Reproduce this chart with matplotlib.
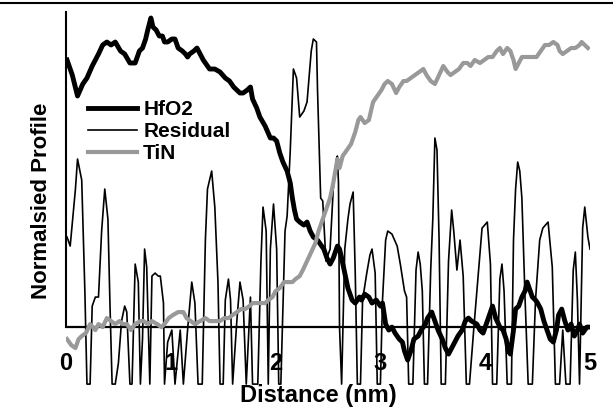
import numpy as np
import matplotlib
matplotlib.use('Agg')
import matplotlib.pyplot as plt
from matplotlib.lines import Line2D

plt.rcParams['font.family'] = ['Liberation Sans', 'DejaVu Sans']

# HfO2 profile (nm, normalised)
hfo2_x = [0.01, 0.06, 0.11, 0.16, 0.20, 0.25, 0.31, 0.35, 0.39, 0.43, 0.47, 0.52, 0.56, 0.61, 0.66,
          0.70, 0.73, 0.76, 0.78, 0.81, 0.83, 0.86, 0.89, 0.92, 0.94, 0.97, 1.01, 1.04, 1.07, 1.11,
          1.14, 1.16, 1.18, 1.22, 1.25, 1.28, 1.31, 1.35, 1.37, 1.42, 1.47, 1.52, 1.56, 1.60, 1.63,
          1.66, 1.69, 1.73, 1.76, 1.78, 1.82, 1.85, 1.90, 1.95, 1.98, 2.01, 2.04, 2.07, 2.11, 2.14,
          2.16, 2.18, 2.20, 2.23, 2.27, 2.30, 2.33, 2.36, 2.40, 2.42, 2.46, 2.49, 2.52, 2.55, 2.59,
          2.61, 2.63, 2.66, 2.69, 2.73, 2.76, 2.80, 2.82, 2.85, 2.89, 2.92, 2.96, 3.00, 3.02, 3.05,
          3.08, 3.11, 3.14, 3.18, 3.21, 3.23, 3.26, 3.29, 3.32, 3.36, 3.39, 3.43, 3.45, 3.49, 3.52,
          3.55, 3.59, 3.62, 3.65, 3.68, 3.71, 3.74, 3.78, 3.81, 3.84, 3.87, 3.92, 3.95, 3.98, 4.02,
          4.05, 4.07, 4.10, 4.14, 4.17, 4.20, 4.22, 4.24, 4.27, 4.29, 4.32, 4.35, 4.38, 4.40, 4.43,
          4.45, 4.48, 4.50, 4.53, 4.56, 4.59, 4.62, 4.65, 4.68, 4.70, 4.73, 4.76, 4.79, 4.82, 4.85,
          4.88, 4.90, 4.93, 4.97, 5.00]
hfo2_y = [0.89, 0.84, 0.77, 0.81, 0.83, 0.87, 0.91, 0.94, 0.95, 0.94, 0.95, 0.92, 0.91, 0.88, 0.88,
          0.92, 0.93, 0.96, 0.99, 1.03, 1.00, 0.99, 0.97, 0.97, 0.95, 0.95, 0.96, 0.96, 0.93, 0.92,
          0.91, 0.90, 0.91, 0.92, 0.93, 0.91, 0.89, 0.87, 0.86, 0.86, 0.85, 0.83, 0.82, 0.80, 0.79,
          0.78, 0.78, 0.79, 0.80, 0.76, 0.73, 0.70, 0.67, 0.63, 0.63, 0.62, 0.58, 0.55, 0.52, 0.48,
          0.43, 0.39, 0.36, 0.35, 0.34, 0.35, 0.32, 0.30, 0.29, 0.28, 0.26, 0.23, 0.21, 0.23, 0.27,
          0.26, 0.23, 0.18, 0.13, 0.09, 0.08, 0.10, 0.09, 0.11, 0.10, 0.08, 0.09, 0.07, 0.08, 0.01,
          -0.01, 0.00, -0.02, -0.04, -0.05, -0.08, -0.11, -0.08, -0.04, -0.03, -0.01, 0.01, 0.03, 0.05, 0.02,
          -0.01, -0.04, -0.07, -0.09, -0.07, -0.05, -0.03, -0.01, 0.02, 0.03, 0.02, 0.01, -0.01, -0.02, 0.02,
          0.05, 0.07, 0.03, 0.00, -0.01, -0.04, -0.08, -0.09, -0.01, 0.06, 0.07, 0.10, 0.12, 0.15, 0.12,
          0.10, 0.09, 0.08, 0.06, 0.02, -0.01, -0.04, -0.05, -0.01, 0.04, 0.06, 0.02, -0.01, 0.01, -0.03,
          -0.01, 0.01, -0.02, 0.00, 0.00]

# TiN profile
tin_x = [0.01, 0.05, 0.09, 0.12, 0.15, 0.19, 0.23, 0.28, 0.31, 0.35, 0.39, 0.43, 0.47, 0.51, 0.54,
         0.58, 0.62, 0.66, 0.71, 0.74, 0.78, 0.82, 0.87, 0.91, 0.94, 0.98, 1.02, 1.07, 1.12, 1.15,
         1.19, 1.23, 1.28, 1.33, 1.37, 1.42, 1.47, 1.51, 1.55, 1.59, 1.63, 1.67, 1.71, 1.75, 1.78,
         1.82, 1.86, 1.90, 1.93, 1.97, 2.00, 2.04, 2.08, 2.12, 2.16, 2.19, 2.23, 2.26, 2.30, 2.34,
         2.38, 2.41, 2.45, 2.49, 2.52, 2.55, 2.57, 2.59, 2.61, 2.64, 2.68, 2.72, 2.76, 2.79, 2.81,
         2.85, 2.89, 2.93, 2.97, 3.01, 3.04, 3.07, 3.11, 3.15, 3.18, 3.22, 3.25, 3.29, 3.33, 3.37,
         3.41, 3.44, 3.48, 3.52, 3.56, 3.60, 3.64, 3.67, 3.71, 3.75, 3.79, 3.83, 3.86, 3.90, 3.95,
         3.99, 4.03, 4.07, 4.11, 4.14, 4.17, 4.21, 4.24, 4.27, 4.29, 4.32, 4.35, 4.40, 4.45, 4.49,
         4.53, 4.57, 4.61, 4.65, 4.69, 4.71, 4.74, 4.78, 4.82, 4.86, 4.90, 4.92, 4.95, 4.98]
tin_y = [-0.04, -0.06, -0.07, -0.04, -0.03, -0.02, 0.01, -0.01, 0.01, 0.00, 0.03, 0.02, 0.01, 0.02, 0.01,
         0.01, -0.01, 0.01, 0.02, 0.02, 0.01, 0.02, 0.01, 0.00, 0.01, 0.03, 0.04, 0.05, 0.05, 0.03,
         0.02, 0.01, 0.02, 0.03, 0.02, 0.02, 0.02, 0.03, 0.03, 0.04, 0.05, 0.06, 0.06, 0.07, 0.08,
         0.08, 0.08, 0.08, 0.09, 0.10, 0.12, 0.13, 0.15, 0.15, 0.15, 0.16, 0.17, 0.19, 0.22, 0.25,
         0.28, 0.32, 0.36, 0.40, 0.43, 0.48, 0.52, 0.56, 0.53, 0.57, 0.59, 0.61, 0.65, 0.69, 0.70,
         0.68, 0.69, 0.75, 0.77, 0.79, 0.81, 0.82, 0.81, 0.78, 0.80, 0.82, 0.82, 0.83, 0.84, 0.85,
         0.86, 0.84, 0.82, 0.81, 0.84, 0.87, 0.85, 0.84, 0.85, 0.86, 0.88, 0.88, 0.87, 0.89, 0.88,
         0.89, 0.90, 0.90, 0.92, 0.93, 0.91, 0.93, 0.92, 0.89, 0.86, 0.88, 0.90, 0.90, 0.90, 0.90,
         0.92, 0.94, 0.94, 0.95, 0.94, 0.92, 0.91, 0.92, 0.93, 0.93, 0.94, 0.95, 0.94, 0.93]

# Residual
res_x = [0.01, 0.04, 0.09, 0.11, 0.15, 0.18, 0.20, 0.23, 0.25, 0.28, 0.31, 0.34, 0.37, 0.40, 0.42,
         0.44, 0.47, 0.50, 0.53, 0.56, 0.58, 0.61, 0.63, 0.66, 0.69, 0.71, 0.73, 0.75, 0.77, 0.80,
         0.82, 0.85, 0.88, 0.90, 0.93, 0.94, 0.97, 1.01, 1.04, 1.09, 1.12, 1.16, 1.20, 1.23, 1.26,
         1.30, 1.33, 1.35, 1.39, 1.42, 1.45, 1.47, 1.50, 1.52, 1.55, 1.57, 1.59, 1.63, 1.66, 1.69,
         1.72, 1.76, 1.78, 1.83, 1.86, 1.88, 1.91, 1.93, 1.95, 1.98, 2.01, 2.03, 2.05, 2.09, 2.11,
         2.14, 2.17, 2.20, 2.23, 2.27, 2.30, 2.34, 2.36, 2.39, 2.40, 2.43, 2.45, 2.48, 2.52, 2.55,
         2.58, 2.59, 2.60, 2.61, 2.63, 2.66, 2.69, 2.71, 2.74, 2.76, 2.78, 2.81, 2.83, 2.87, 2.90,
         2.92, 2.95, 2.97, 3.00, 3.02, 3.05, 3.07, 3.11, 3.16, 3.19, 3.23, 3.25, 3.27, 3.31, 3.34,
         3.36, 3.38, 3.40, 3.42, 3.45, 3.48, 3.50, 3.52, 3.54, 3.56, 3.58, 3.62, 3.65, 3.68, 3.70,
         3.73, 3.76, 3.79, 3.82, 3.85, 3.89, 3.93, 3.97, 4.02, 4.05, 4.07, 4.11, 4.14, 4.16, 4.18,
         4.21, 4.25, 4.27, 4.29, 4.31, 4.33, 4.35, 4.38, 4.41, 4.45, 4.48, 4.52, 4.55, 4.60, 4.64,
         4.67, 4.71, 4.74, 4.77, 4.81, 4.84, 4.86, 4.88, 4.90, 4.93, 4.95, 4.98, 5.00]
res_y = [0.30, 0.27, 0.46, 0.56, 0.49, 0.12, -0.19, -0.19, 0.07, 0.10, 0.10, 0.32, 0.46, 0.36, 0.07,
         -0.19, -0.19, -0.12, 0.02, 0.07, 0.05, -0.19, -0.19, 0.21, 0.15, -0.19, -0.04, 0.26, 0.20, -0.19,
         0.17, 0.18, 0.17, 0.17, 0.08, -0.19, -0.05, -0.01, -0.19, -0.01, -0.19, -0.01, 0.15, 0.08, -0.19,
         -0.19, 0.29, 0.46, 0.52, 0.40, 0.15, -0.19, -0.19, 0.09, 0.16, 0.09, -0.19, 0.02, 0.15, 0.09,
         -0.19, 0.10, -0.19, -0.19, 0.22, 0.40, 0.32, -0.19, 0.26, 0.41, 0.26, -0.19, -0.19, 0.32, 0.37,
         0.59, 0.86, 0.83, 0.70, 0.72, 0.75, 0.92, 0.96, 0.95, 0.79, 0.43, 0.42, 0.22, 0.26, 0.46,
         0.56, 0.57, 0.48, 0.00, -0.19, 0.26, 0.36, 0.41, 0.45, 0.18, -0.19, -0.19, 0.09, 0.18, 0.24,
         0.26, 0.18, -0.19, -0.19, 0.09, 0.29, 0.32, 0.31, 0.27, 0.21, 0.12, 0.10, -0.19, -0.19, 0.19,
         0.25, 0.21, 0.12, -0.19, -0.19, 0.19, 0.36, 0.63, 0.59, 0.29, -0.19, -0.19, 0.22, 0.39, 0.32,
         0.19, 0.29, 0.17, -0.19, -0.19, -0.01, 0.16, 0.33, 0.35, 0.21, -0.19, -0.19, 0.16, 0.21, 0.12,
         -0.19, -0.19, 0.29, 0.46, 0.55, 0.52, 0.43, 0.10, -0.19, -0.19, 0.09, 0.29, 0.33, 0.35, 0.20,
         -0.19, -0.19, -0.01, -0.19, -0.19, 0.19, 0.25, 0.09, -0.19, 0.33, 0.40, 0.30, 0.26]

tick_vals = [0, 1, 2, 3, 4, 5]

fig = plt.figure(figsize=(6.13, 4.09), dpi=100)
ax = fig.add_axes([66 / 613, 1 - 385 / 409, 524 / 613, 373 / 409])

ax.plot(hfo2_x, hfo2_y, color='black', lw=3.5, label='HfO2', solid_joinstyle='round')
ax.plot(res_x, res_y, color='black', lw=1.2, label='Residual')
ax.plot(tin_x, tin_y, color='#999999', lw=3.0, label='TiN', solid_joinstyle='round')
ax.axhline(0, color='black', lw=1.6, zorder=1)

ax.set_xlim(0, 5)
ax.set_ylim(-0.193, 1.05)
for s in ['top', 'right', 'bottom']:
    ax.spines[s].set_visible(False)
ax.spines['left'].set_linewidth(1.5)
ax.spines['left'].set_bounds(0, 1.05)
ax.set_yticks([])
ax.set_xticks(tick_vals)
ax.set_xticklabels([str(t) for t in tick_vals], fontsize=17, fontweight='bold')
ax.tick_params(axis='x', length=0, pad=-24)

ax.legend(loc='upper left', bbox_to_anchor=(0.042, 0.764), frameon=False,
          prop={'weight': 'bold', 'size': 15}, handlelength=2.35, handletextpad=0.3,
          labelspacing=0.15, borderpad=0, borderaxespad=0)

fig.text(42 / 613, 0.508, 'Normalsied Profile', rotation=90, ha='center', va='center',
         fontsize=16, fontweight='bold')
fig.text(318 / 613, 1 - 402 / 409, 'Distance (nm)', ha='center', va='baseline',
         fontsize=17, fontweight='bold')
fig.add_artist(Line2D([0, 1], [1 - 3 / 409, 1 - 3 / 409], color='black', lw=1.5))

fig.savefig('out.png', dpi=100)
